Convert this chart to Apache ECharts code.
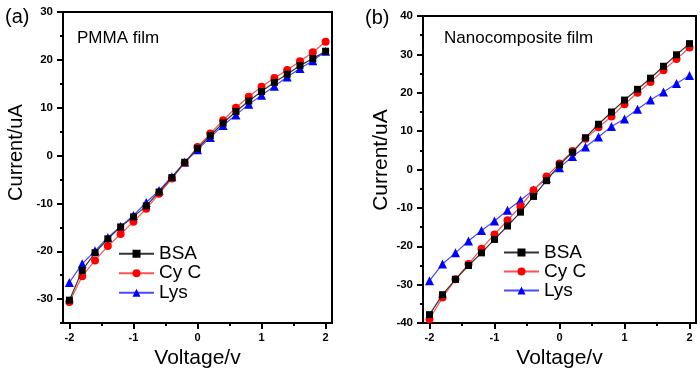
<!DOCTYPE html>
<html>
<head>
<meta charset="utf-8">
<script src="https://cdn.jsdelivr.net/npm/echarts@6/dist/echarts.min.js"></script>
<style>html,body{margin:0;padding:0;background:#fff;}#c{width:700px;height:374px;}</style>
</head>
<body>
<div id="c"></div>
<script>
const voltage = [-2,-1.8,-1.6,-1.4,-1.2,-1,-0.8,-0.6,-0.4,-0.2,0,0.2,0.4,0.6,0.8,1,1.2,1.4,1.6,1.8,2];
// (a) PMMA film
const pmmaBSA = [-30.2,-24.0,-20.3,-17.4,-14.9,-12.8,-10.5,-7.6,-4.6,-1.4,1.5,4.2,6.8,9.2,11.4,13.4,15.3,17.0,18.8,20.3,21.8];
const pmmaCyC = [-30.6,-25.2,-21.9,-18.9,-16.4,-13.8,-11.1,-8.0,-4.8,-1.5,1.8,4.6,7.4,10.0,12.3,14.4,16.2,17.9,19.7,21.6,23.8];
const pmmaLys = [-26.5,-22.6,-19.9,-17.1,-14.8,-12.5,-9.8,-7.3,-4.4,-1.4,1.2,3.8,6.3,8.5,10.7,12.6,14.5,16.4,18.2,19.8,21.8];
// (b) Nanocomposite film
const nanoBSA = [-37.8,-32.6,-28.6,-25.0,-21.7,-18.2,-14.7,-11.1,-7.0,-2.9,1.2,4.5,8.3,11.8,15.0,18.1,20.9,23.8,26.9,29.9,32.8];
const nanoCyC = [-39.0,-33.3,-28.6,-24.6,-20.6,-16.9,-13.2,-9.6,-5.4,-1.8,1.6,4.8,8.0,11.0,13.8,17.0,20.0,22.8,25.9,28.8,31.8];
const nanoLys = [-29.0,-24.6,-21.7,-18.6,-15.9,-13.4,-10.6,-8.0,-5.3,-2.3,0.5,3.4,5.9,8.5,11.2,13.2,15.7,18.1,20.2,22.4,24.5];
const xMajor = [-2,-1,0,1,2];
const xMinor = [-1.5,-0.5,0.5,1.5];
const yMajorA = [-30,-20,-10,0,10,20,30];
const yMinorA = [-35,-25,-15,-5,5,15,25];
const yMajorB = [-40,-30,-20,-10,0,10,20,30,40];
const yMinorB = [-35,-25,-15,-5,5,15,25,35];
const seriesNames = ['BSA','Cy C','Lys'];
const titles = ['(a)','(b)'];
const panelLabels = ['PMMA film','Nanocomposite film'];
const axisNameX = 'Voltage/v';
const axisNameY = 'Current/uA';

const FONT = '"Liberation Sans", Arial, sans-serif';
const colors = ['#000000','#ff0000','#0000ff'];
const lineColors = ['#333333','#ff5050','#4a4aff'];
const symbols = ['rect','circle','triangle'];
const symbolSizes = [7,8,9];

const grids = [
  {left:63, top:12, width:269, height:314, show:true, borderColor:'#000', borderWidth:2},
  {left:423, top:16, width:273, height:308, show:true, borderColor:'#000', borderWidth:2}
];

function xAxes(gi){
  return [
    {type:'value', gridIndex:gi, min:-2.1, max:2.1, position:'bottom',
     name:axisNameX, nameLocation:'middle', nameGap:21,
     nameTextStyle:{fontFamily:FONT, fontSize:21, color:'#000'},
     axisLine:{show:true, onZero:false, lineStyle:{color:'#000', width:2}},
     axisTick:{show:true, inside:false, length:6, customValues:xMajor, lineStyle:{color:'#000', width:2}},
     axisLabel:{show:true, customValues:xMajor, margin:9, fontFamily:FONT, fontSize:11, fontWeight:'bold', color:'#000'},
     splitLine:{show:false}},
    {type:'value', gridIndex:gi, min:-2.1, max:2.1, position:'bottom', offset:0,
     axisLine:{show:false, onZero:false},
     axisTick:{show:true, inside:false, length:3, customValues:xMinor, lineStyle:{color:'#000', width:2}},
     axisLabel:{show:false}, splitLine:{show:false}}
  ];
}
function yAxes(gi, min, max, major, minor, gap, fs, pad){
  return [
    {type:'value', gridIndex:gi, min:min, max:max, position:'left',
     name:axisNameY, nameLocation:'middle', nameGap:gap,
     nameTextStyle:{fontFamily:FONT, fontSize:fs, color:'#000', padding:[0,0,0,pad]},
     axisLine:{show:true, onZero:false, lineStyle:{color:'#000', width:2}},
     axisTick:{show:true, inside:false, length:6, customValues:major, lineStyle:{color:'#000', width:2}},
     axisLabel:{show:true, customValues:major, margin:10, fontFamily:FONT, fontSize:11.5, fontWeight:'bold', color:'#000'},
     splitLine:{show:false}},
    {type:'value', gridIndex:gi, min:min, max:max, position:'left', offset:0,
     axisLine:{show:false, onZero:false},
     axisTick:{show:true, inside:false, length:3, customValues:minor, lineStyle:{color:'#000', width:2}},
     axisLabel:{show:false}, splitLine:{show:false}}
  ];
}
function mkSeries(gi, datas){
  return datas.map((d,i)=>({
    type:'line', name:seriesNames[i], xAxisIndex:gi*2, yAxisIndex:gi*2,
    data: voltage.map((v,k)=>[v,d[k]]),
    symbol:symbols[i], symbolSize:symbolSizes[i],
    itemStyle:{color:colors[i]},
    lineStyle:{color:lineColors[i], width:1.2},
    z: 3 - i + 2
  }));
}

const option = {
  animation:false,
  backgroundColor:'#fff',
  grid: grids,
  xAxis: [...xAxes(0), ...xAxes(1)],
  yAxis: [...yAxes(0,-35,30,yMajorA,yMinorA,37,20,30), ...yAxes(1,-40,40,yMajorB,yMinorB,31,21,19)],
  title: [
    {text:titles[0], left:0, top:2, textStyle:{fontFamily:FONT, fontSize:20, fontWeight:'normal', color:'#000'}},
    {text:titles[1], left:360, top:3, textStyle:{fontFamily:FONT, fontSize:20, fontWeight:'normal', color:'#000'}},
    {text:panelLabels[0], left:72, top:25, textStyle:{fontFamily:FONT, fontSize:17, fontWeight:'normal', color:'#000'}},
    {text:panelLabels[1], left:439, top:25, textStyle:{fontFamily:FONT, fontSize:17, fontWeight:'normal', color:'#000'}}
  ],
  legend: [
    {data:seriesNames, orient:'vertical', left:113, top:239, itemWidth:35, itemHeight:10, itemGap:0,
     textStyle:{fontFamily:FONT, fontSize:19, color:'#000', lineHeight:19.5}},
    {data:seriesNames, orient:'vertical', left:498, top:238, itemWidth:35, itemHeight:10, itemGap:0,
     textStyle:{fontFamily:FONT, fontSize:19, color:'#000', lineHeight:19}}
  ],
  series: [...mkSeries(0,[pmmaBSA,pmmaCyC,pmmaLys]), ...mkSeries(1,[nanoBSA,nanoCyC,nanoLys])]
};
const chart = echarts.init(document.getElementById('c'), null, {renderer:'canvas'});
chart.setOption(option);
</script>
</body>
</html>
